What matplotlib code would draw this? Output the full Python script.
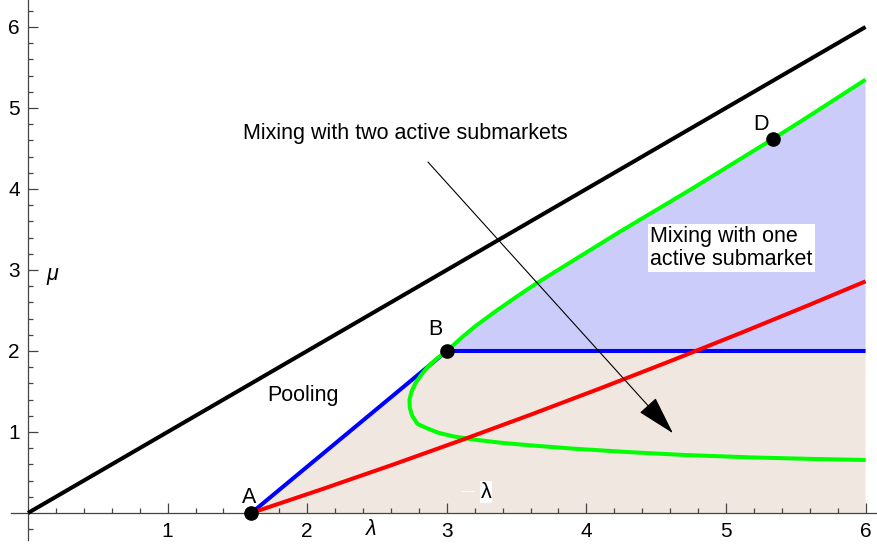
import numpy as np
import matplotlib
matplotlib.use("Agg")
import matplotlib.pyplot as plt
from matplotlib.ticker import FixedLocator

plt.rcParams['font.family'] = ['Liberation Sans', 'DejaVu Sans']

# ---- data ----
black_x = [0.0, 6.0]
black_y = [0.0, 6.0]

blue_x = [1.6, 3.0, 6.0]
blue_y = [0.0, 2.0, 2.0]

red_x = [1.6, 2.1, 2.6, 3.1, 3.6, 4.1, 4.6, 5.1, 5.6, 6.0]
red_y = [0.0, 0.29, 0.588, 0.896, 1.213, 1.539, 1.874, 2.218, 2.571, 2.86]

green_x = [6.0, 5.6, 5.339, 4.742, 4.241, 3.9, 3.644, 3.5, 3.35, 3.2, 3.1, 3.0,
           2.925, 2.862, 2.815, 2.775, 2.748, 2.733, 2.735, 2.752, 2.79,
           2.86, 2.94, 3.05, 3.2, 3.4, 3.6, 3.9, 4.3, 4.7, 5.2, 5.6, 6.0]
green_y = [5.35, 4.905, 4.62, 3.988, 3.473, 3.11, 2.836, 2.67, 2.49, 2.30, 2.155, 2.0,
           1.9, 1.8, 1.7, 1.6, 1.5, 1.4, 1.3, 1.2, 1.1,
           1.045, 0.99, 0.945, 0.905, 0.865, 0.835, 0.795, 0.752, 0.716, 0.685, 0.668, 0.654]
n_upper = 12  # points of the upper green branch (from top end down to B)

point_labels = ['A', 'B', 'D']
point_x = [1.6, 3.0, 5.339]
point_y = [0.0, 2.0, 4.62]

x_ticks = [1, 2, 3, 4, 5, 6]
y_ticks = [1, 2, 3, 4, 5, 6]

FS = 15.5

# ---- figure ----
fig = plt.figure(figsize=(8.77, 5.47), dpi=100)
ax = fig.add_axes([0, 0, 1, 1])
ax.set_xlim(-0.2006, 6.082)
ax.set_ylim(-0.42, 6.333)

# shaded regions
ax.fill(blue_x + [blue_x[-1]], blue_y + [0.0], color='#F0E7E1', lw=0, zorder=1)
ux = green_x[:n_upper] + [blue_x[-1]]
uy = green_y[:n_upper] + [blue_y[-1]]
ax.fill(ux, uy, color='#CCCCFA', lw=0, zorder=1)

lw = 2.9
ax.plot(blue_x, blue_y, color='#0000FF', lw=lw, zorder=3, solid_capstyle='butt')
ax.plot(green_x, green_y, color='#00FF00', lw=lw, zorder=4,
        solid_joinstyle='round', solid_capstyle='butt')
ax.plot(red_x, red_y, color='#FF0000', lw=lw, zorder=5,
        solid_joinstyle='round', solid_capstyle='butt')
ax.plot(black_x, black_y, color='black', lw=lw, zorder=5, solid_capstyle='butt')

ax.plot(point_x, point_y, 'o', color='black', ms=9.5, zorder=8)
lab_off = [(-0.013, 0.127), (-0.082, 0.198), (-0.088, 0.108)]
for lab, px, py, (dx, dy) in zip(point_labels, point_x, point_y, lab_off):
    ax.text(px + dx, py + dy, lab, fontsize=FS, ha='center', va='baseline', zorder=9)

# arrow
ax.annotate('', xy=(4.62, 0.985), xytext=(2.865, 4.333),
            arrowprops=dict(arrowstyle='-|>,head_length=2.5,head_width=0.7',
                            mutation_scale=10, lw=0.8, color='black',
                            shrinkA=0, shrinkB=0), zorder=10)

# texts
ax.text(1.542, 4.613, 'Mixing with two active submarkets', fontsize=FS,
        ha='left', va='baseline', zorder=9)
ax.text(4.456, 3.537, 'Mixing with one\nactive submarket', fontsize=FS,
        ha='left', va='top', linespacing=1.1, zorder=9,
        bbox=dict(facecolor='white', edgecolor='none', pad=1.5))
ax.text(1.714, 1.386, 'Pooling', fontsize=FS, ha='left', va='baseline', zorder=9)
ax.text(2.457, -0.27, 'λ', fontsize=FS, style='italic', ha='center',
        va='baseline', zorder=9)
ax.text(0.172, 2.877, 'μ', fontsize=FS, style='italic', ha='center',
        va='baseline', zorder=9)
ax.text(3.154, 0.256, '—', fontsize=9, color='white', ha='center',
        va='center', zorder=9)
ax.text(3.28, 0.259, 'λ', fontsize=FS, ha='center', va='center', zorder=9,
        bbox=dict(facecolor='white', edgecolor='none', pad=0.3))

# axes styling
for s in ['top', 'right']:
    ax.spines[s].set_visible(False)
ax.spines['left'].set_position(('data', 0))
ax.spines['bottom'].set_position(('data', 0))
ax.spines['bottom'].set_bounds(-0.12, 6.082)
ax.spines['left'].set_bounds(-0.33, 6.333)
for s in ['left', 'bottom']:
    ax.spines[s].set_color('#444444')
    ax.spines[s].set_linewidth(0.9)
ax.set_facecolor('white')

ax.xaxis.set_major_locator(FixedLocator(x_ticks))
ax.yaxis.set_major_locator(FixedLocator(y_ticks))
ax.set_xticklabels([str(t) for t in x_ticks])
ax.set_yticklabels([str(t) for t in y_ticks])
xminor = [round(v, 1) for v in np.arange(0.2, 6.01, 0.2) if abs(v - round(v)) > 1e-6]
yminor = [round(v, 1) for v in np.arange(-0.2, 6.31, 0.2) if abs(v - round(v)) > 1e-6]
ax.xaxis.set_minor_locator(FixedLocator(xminor))
ax.yaxis.set_minor_locator(FixedLocator(yminor))
ax.tick_params(which='major', direction='in', length=7, width=0.9,
               color='#444444', labelsize=15)
ax.tick_params(which='minor', direction='in', length=3.8, width=0.9,
               color='#444444')
ax.tick_params(axis='x', which='major', pad=6.5)
ax.tick_params(axis='y', which='major', pad=6)

fig.savefig('out.png', dpi=100)
